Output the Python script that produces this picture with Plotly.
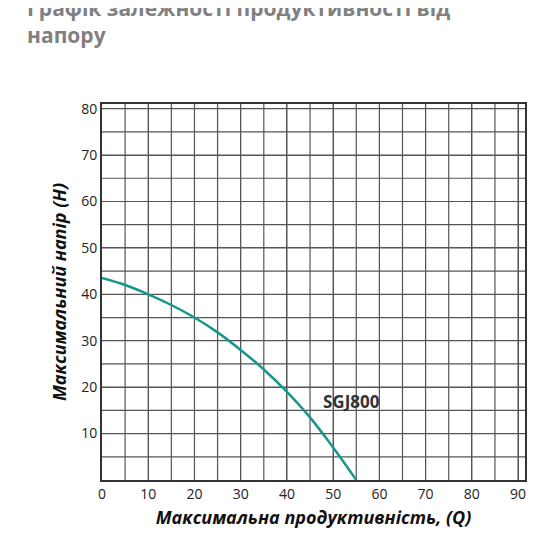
import plotly.graph_objects as go

# крива напору
q = [0, 5, 10, 15, 20, 25, 30, 35, 40, 45, 50, 55]
h = [43.5, 42, 40, 37.7, 35, 31.8, 28, 23.8, 19, 13.5, 7, 0]

fig = go.Figure()
fig.add_trace(go.Scatter(x=q, y=h, mode="lines", line=dict(color="#17968a", width=2.5, shape="spline")))
fig.add_annotation(x=54, y=17, text="<b>SGJ800</b>", showarrow=False, font=dict(size=17, color="#333333"))

axis = dict(showline=True, linecolor="#333", linewidth=2, mirror=True, gridcolor="#555", gridwidth=1.2,
            zeroline=False, ticks="", tickfont=dict(size=14, color="#222"), automargin=False)
fig.update_xaxes(axis, range=[0, 91.5], tickvals=list(range(0, 91, 10)),
                 title=dict(text="<b><i>Максимальна продуктивність, (Q)</i></b>", standoff=10,
                            font=dict(size=18, color="#111")))
fig.update_yaxes(axis, range=[0, 81], tickvals=list(range(10, 81, 10)),
                 title=dict(text="<b><i>Максимальний напір (H)</i></b>", standoff=10,
                            font=dict(size=18, color="#111")))
# сітка через 5
for v in range(5, 91, 5):
    fig.add_vline(x=v, line=dict(color="#555", width=1.2), layer="below")
for v in range(5, 81, 5):
    fig.add_hline(y=v, line=dict(color="#555", width=1.2), layer="below")

fig.update_layout(
    width=545, height=545, showlegend=False,
    plot_bgcolor="white", paper_bgcolor="white",
    font=dict(family="Open Sans"),
    title=dict(text="<b>Графік залежності продуктивності від<br>напору</b>", x=0.035, y=0.985, xanchor="left", yanchor="top",
               font=dict(size=21, color="#808080")),
    margin=dict(l=94, r=28, t=96, b=73),
)
fig.write_html("out.html")
